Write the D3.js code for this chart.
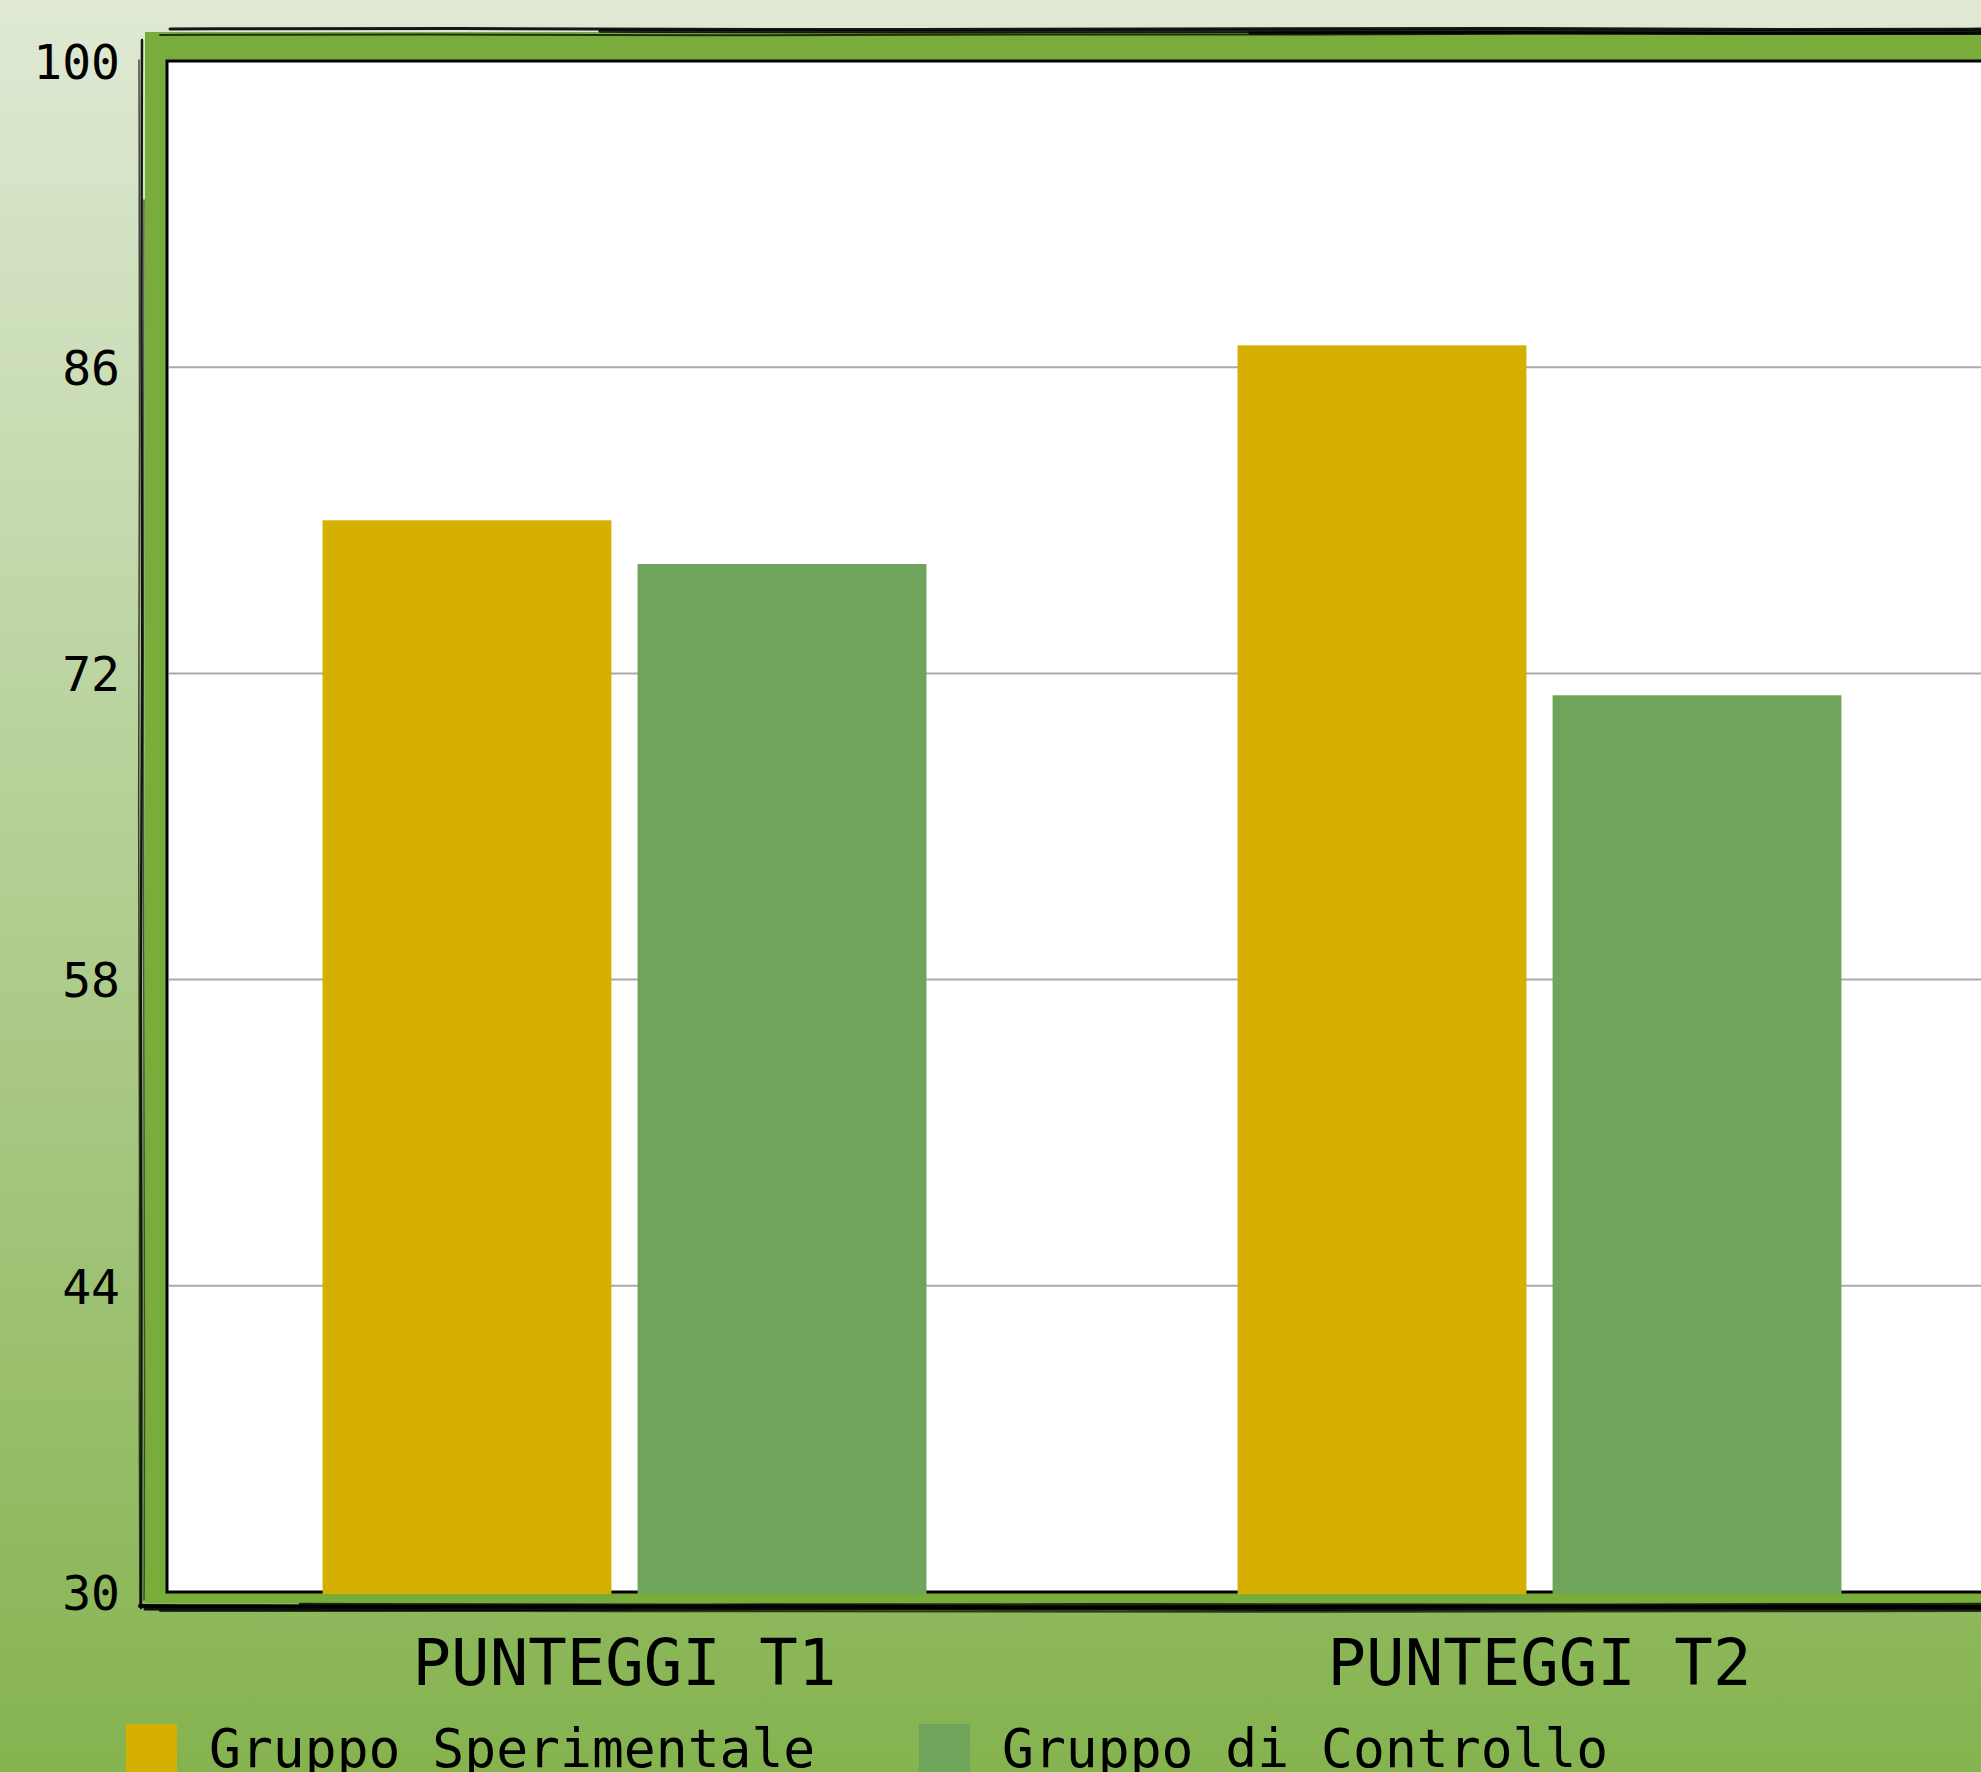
<!DOCTYPE html>
<html>
<head>
<meta charset="utf-8">
<script src="https://cdn.jsdelivr.net/npm/d3@7"></script>
<style>
html,body{margin:0;padding:0;overflow:hidden;}
svg{display:block;}
text{font-family:"DejaVu Sans Mono",monospace;fill:#000;}
</style>
</head>
<body>
<script>
const categories = ["PUNTEGGI T1", "PUNTEGGI T2"];
const seriesNames = ["Gruppo Sperimentale", "Gruppo di Controllo"];
const sperimentale = [79, 87];
const controllo = [77, 71];
const yTicks = [30, 44, 58, 72, 86, 100];
const colors = ["#d6b000", "#6ea55a"];

const W = 1981, H = 1772;
const svg = d3.select("body").append("svg").attr("width", W).attr("height", H);

const defs = svg.append("defs");
const grad = defs.append("linearGradient").attr("id", "bg").attr("x1", 0).attr("y1", 0).attr("x2", 0).attr("y2", 1);
grad.append("stop").attr("offset", "0%").attr("stop-color", "#dfe9d4");
grad.append("stop").attr("offset", "100%").attr("stop-color", "#85b34f");
svg.append("rect").attr("width", W).attr("height", H).attr("fill", "url(#bg)");

const plot = {left: 167, top: 61, width: 1830, bottom: 1592};

const y = d3.scaleLinear().domain([30, 100]).range([plot.bottom, plot.top]);
const x0 = d3.scaleBand().domain(categories).range([plot.left, plot.left + plot.width]).paddingInner(0.34).paddingOuter(0.17);
const x1 = d3.scaleBand().domain(seriesNames).range([0, x0.bandwidth()]).paddingInner(0.083);

// green frame
svg.append("rect").attr("x", 145).attr("y", 32).attr("width", 2100).attr("height", 1603 - 32).attr("fill", "#79ad3b");

// sketchy outer strokes (fixed hand-drawn look)
const sk = svg.append("g").attr("fill", "none").attr("stroke", "#000").attr("stroke-linecap", "round");
const line = d3.line().curve(d3.curveBasis);
const topPaths = [
  [[170,29],[450,28],[800,30],[1150,29],[1500,28],[1800,30],[2000,29]],
  [[160,35],[420,34],[700,36],[1000,34],[1300,35],[1650,33],[2000,34]],
  [[600,31],[900,32],[1300,31],[1700,32],[2000,31]],
  [[1250,33],[1500,32],[1750,34],[2000,33]]
];
topPaths.forEach((p,i)=> sk.append("path").attr("d", line(p)).attr("stroke-width", [3,2,3.5,3][i]).attr("opacity", [0.9,0.75,0.85,0.9][i]));
const leftPaths = [
  [[142,40],[141,300],[143,650],[140,1000],[142,1300],[141,1608]],
  [[139,60],[140,420],[138,820],[140,1180],[139,1450],[140,1606]],
  [[144,200],[143,700],[145,1500],[144,1600]]
];
leftPaths.forEach((p,i)=> sk.append("path").attr("d", line(p)).attr("stroke-width", [2.5,1.5,1.5][i]).attr("opacity", [0.9,0.7,0.6][i]));
const bottomPaths = [
  [[140,1606],[400,1607],[750,1606],[1100,1608],[1450,1606],[2000,1607]],
  [[145,1609],[500,1610],[900,1608],[1300,1610],[1700,1609],[2000,1609]],
  [[300,1604],[700,1605],[1100,1604],[1500,1605],[2000,1604]],
  [[160,1611],[600,1611],[1200,1612],[2000,1611]]
];
bottomPaths.forEach((p,i)=> sk.append("path").attr("d", line(p)).attr("stroke-width", [4,3,2.5,2][i]).attr("opacity", [1,0.9,0.8,0.7][i]));

// white plot area
svg.append("rect").attr("x", plot.left).attr("y", plot.top).attr("width", plot.width).attr("height", plot.bottom - plot.top)
  .attr("fill", "#fff").attr("stroke", "#000").attr("stroke-width", 3);

// gridlines
svg.append("g").selectAll("line").data(yTicks.filter(t => t > 30 && t < 100)).join("line")
  .attr("x1", plot.left + 2).attr("x2", plot.left + plot.width).attr("y1", d => y(d)).attr("y2", d => y(d))
  .attr("stroke", "#aaaaaa").attr("stroke-width", 2);

// bars
const data = categories.map((c, i) => ({cat: c, vals: [sperimentale[i], controllo[i]]}));
const gg = svg.append("g").selectAll("g").data(data).join("g").attr("transform", d => `translate(${x0(d.cat)},0)`);
gg.selectAll("rect").data(d => d.vals.map((v, j) => ({name: seriesNames[j], v, j}))).join("rect")
  .attr("x", d => x1(d.name)).attr("width", x1.bandwidth())
  .attr("y", d => y(d.v)).attr("height", d => y(30) + 2 - y(d.v))
  .attr("fill", d => colors[d.j]);

// y axis
const yAxis = d3.axisLeft(y).tickValues(yTicks).tickSize(0).tickPadding(0);
const ya = svg.append("g").attr("transform", "translate(120,0)").call(yAxis);
ya.select(".domain").remove();
ya.selectAll("text").attr("font-family", "DejaVu Sans Mono").attr("font-size", 48).attr("fill", "#000").attr("dy", "0.36em");

// x axis labels
const xAxis = d3.axisBottom(x0).tickSize(0).tickPadding(0);
const xa = svg.append("g").attr("transform", "translate(0,1685)").call(xAxis);
xa.select(".domain").remove();
xa.selectAll("text").attr("font-family", "DejaVu Sans Mono").attr("font-size", 64).attr("fill", "#000").attr("dy", 0);

// legend
const legendX = [126, 919];
const lg = svg.append("g").selectAll("g").data(seriesNames).join("g")
  .attr("transform", (d, i) => `translate(${legendX[i]},1724)`);
lg.append("rect").attr("width", 51).attr("height", 51).attr("fill", (d, i) => colors[i]);
lg.append("text").attr("x", 83).attr("y", 43).attr("font-size", 53).text(d => d);
</script>
</body>
</html>
